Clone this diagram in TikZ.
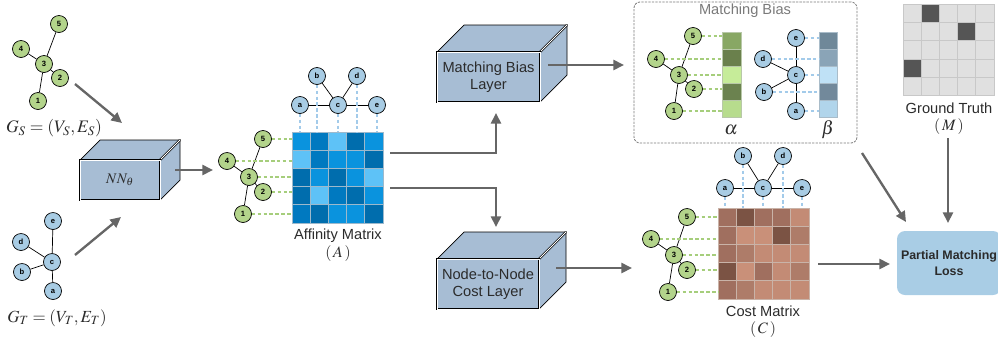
\documentclass[tikz,border=0pt]{standalone}
\usepackage{mathptmx}
\usepackage{fontspec}
\setmainfont{Liberation Sans}
\usetikzlibrary{arrows.meta,calc}

\def\px{0.03cm}
\definecolor{gnode}{HTML}{B3D48B}
\definecolor{bnode}{HTML}{A8CCE4}
\definecolor{gdash}{HTML}{A6CE7C}
\definecolor{bdash}{HTML}{A3CBEA}
\definecolor{layerblue}{HTML}{A7BDD4}
\definecolor{lossblue}{HTML}{A9CDE5}
\definecolor{arrowgray}{HTML}{666666}
\definecolor{txtgray}{HTML}{2B2B2B}
\definecolor{biasgray}{HTML}{7A7A7A}
\definecolor{am}{HTML}{0A93DE}
\definecolor{ad}{HTML}{0079C0}
\definecolor{al}{HTML}{5EC2F7}
\definecolor{ae}{HTML}{006DAD}
\definecolor{affgrid}{HTML}{9DB9CC}
\definecolor{c1}{HTML}{7B5344}
\definecolor{c2}{HTML}{A06F5F}
\definecolor{c3}{HTML}{AE7C69}
\definecolor{c4}{HTML}{C38B75}
\definecolor{c5}{HTML}{C99079}
\definecolor{costgrid}{HTML}{C9B3A8}
\definecolor{al1}{HTML}{88A764}
\definecolor{al2}{HTML}{6A804C}
\definecolor{al3}{HTML}{C6EC99}
\definecolor{al4}{HTML}{6B824F}
\definecolor{al5}{HTML}{B7DC8D}
\definecolor{algrid}{HTML}{B8C8A8}
\definecolor{be1}{HTML}{6F8899}
\definecolor{be2}{HTML}{8AA4B7}
\definecolor{be3}{HTML}{BFE1F6}
\definecolor{be4}{HTML}{72899B}
\definecolor{be5}{HTML}{B1D5EB}
\definecolor{begrid}{HTML}{A9BCC9}
\definecolor{gl}{HTML}{E0E0E0}
\definecolor{gd}{HTML}{555555}
\definecolor{gtgrid}{HTML}{C8C8C8}

\tikzset{
  gv/.style={circle, draw, fill=gnode, line width=0.6pt, minimum size=17*\px, inner sep=0pt,
    font=\fontsize{6.5}{6.5}\selectfont\bfseries},
  bv/.style={gv, fill=bnode},
  gedge/.style={line width=0.6pt},
  gdashed/.style={draw=gdash, line width=0.9pt, dash pattern=on 3pt off 2pt},
  bdashed/.style={draw=bdash, line width=0.9pt, dash pattern=on 3pt off 2pt},
  flow/.style={draw=arrowgray, line width=2pt, -{Triangle[length=9pt,width=8.5pt]}},
  layerface/.style={fill=layerblue, draw=black, line width=0.6pt},
  layer/.style={draw, fill=layerblue, line width=0.6pt, double=white, double distance=0.8pt,
    align=center, inner sep=0pt, text=txtgray, font=\fontsize{12.5}{15}\selectfont},
  lbl/.style={text=txtgray, inner sep=0pt, font=\fontsize{12.5}{15}\selectfont},
  mat/.style={inner sep=0pt, outer sep=0pt, minimum width=91*\px, minimum height=91*\px},
  biasbox/.style={draw=biasgray, line width=0.7pt, dash pattern=on 2pt off 1pt, rounded corners=6*\px},
  loss/.style={fill=lossblue, rounded corners=8*\px, align=center, inner sep=0pt,
    text=txtgray, font=\fontsize{10.6}{13.5}\selectfont\bfseries}
}

\newcommand{\layerbox}[7]{%
  \filldraw[layerface] (#2-#4/2,#3-#5/2) -- ++(#6,-#6) -- ++(#4,0) -- ++(-#6,#6) -- cycle;
  \filldraw[layerface] (#2+#4/2,#3-#5/2) -- ++(#6,-#6) -- ++(0,#5) -- ++(-#6,#6) -- cycle;
  \draw[line width=0.6pt, double=white, double distance=0.8pt] (#2+#4/2,#3-#5/2) -- ++(#6,-#6);
  \node[layer, minimum width=#4*\px, minimum height=#5*\px] (#1) at (#2,#3) {#7};
}
\newcommand{\heatmap}[5]{%
  \foreach \cl [count=\ri from 0] in {#4}
    \foreach \cc [count=\ci from 0] in \cl
      \filldraw[fill=\cc, draw=#5, line width=0.8pt]
        ($(#1.north west)+(\ci*#2,\ri*#3)$) rectangle ++(#2,#3);
}

\begin{document}
\begin{tikzpicture}[x=\px, y=-\px]
\useasboundingbox (0,0) rectangle (998,350);

\foreach \n/\x/\y in {5/59/24, 4/21/49, 3/44/64, 2/60/78, 1/38/101}
  \node[gv] (gs\n) at (\x,\y) {\n};
\foreach \n in {5,4,2,1} \draw[gedge] (gs3) -- (gs\n);
\node[lbl, font=\fontsize{15}{17}\selectfont] (gslbl) at (54,128) {$G_S=(V_S,E_S)$};

\foreach \n/\x/\y in {e/53/221, d/21/242, c/52/262, b/22/272, a/53/291}
  \node[bv] (gt\n) at (\x,\y) {\n};
\foreach \n in {e,d,b,a} \draw[gedge] (gtc) -- (gt\n);
\node[lbl, font=\fontsize{14.5}{17}\selectfont] (gtlbl) at (57,318) {$G_T=(V_T,E_T)$};

\layerbox{nn}{120}{180}{80}{40}{20}{$NN_\theta$}
\layerbox{mbl}{488.5}{77}{103}{50}{27}{Matching Bias\\Layer}
\layerbox{ncl}{488}{284}{102}{50}{27}{Node-to-Node\\Cost Layer}

\node[mat] (A) at (337.5,177.5) {};
\heatmap{A}{18.2}{18.2}{{am,ad,al,ae,am},{al,ad,am,am,ae},{ae,am,ae,am,al},{ae,al,ad,ae,am},{ad,ae,am,am,ae}}{affgrid}
\foreach \n/\x/\y in {5/263/139, 4/227/161, 3/249/177, 2/263/192, 1/243/214}
  \node[gv] (as\n) at (\x,\y) {\n};
\foreach \n in {5,4,2,1} \draw[gedge] (as3) -- (as\n);
\foreach \n/\x/\y in {a/300/105, b/317/76, c/338/105, d/357/76, e/377/105}
  \node[bv] (at\n) at (\x,\y) {\n};
\foreach \n in {a,b,d,e} \draw[gedge] (atc) -- (at\n);
\foreach \n in {1,...,5} \draw[gdashed] (as\n) -- (as\n -| A.west);
\foreach \n in {a,...,e} \draw[bdashed] (at\n) -- (at\n |- A.north);
\node[lbl] (albl) at (338,236) {Affinity Matrix};
\node[lbl, font=\fontsize{13.5}{15}\selectfont] (albl2) at (338,254) {$(\,A\,)$};

\node[biasbox, minimum width=223*\px, minimum height=141*\px] (mb) at (745.5,72.5) {};
\node[lbl, text=biasgray] (mbtitle) at (745,11) {Matching Bias};
\node[mat, minimum width=19*\px, minimum height=85*\px] (alpha) at (731.5,74.5) {};
\heatmap{alpha}{19}{17}{al1,al2,al3,al4,al5}{algrid}
\node[mat, minimum width=18*\px, minimum height=85*\px] (beta) at (828,74.5) {};
\heatmap{beta}{18}{17}{be1,be2,be3,be4,be5}{begrid}
\foreach \n/\x/\y in {5/693/36, 4/656/59, 3/679/75, 2/694/89, 1/674/111}
  \node[gv] (ms\n) at (\x,\y) {\n};
\foreach \n in {5,4,2,1} \draw[gedge] (ms3) -- (ms\n);
\foreach \n/\x/\y in {e/796/38, d/763/59, c/796/75, b/764/92, a/796/111}
  \node[bv] (mt\n) at (\x,\y) {\n};
\foreach \n in {e,d,b,a} \draw[gedge] (mtc) -- (mt\n);
\foreach \n in {1,...,5} \draw[gdashed] (ms\n) -- (ms\n -| alpha.west);
\foreach \n in {a,...,e} \draw[bdashed] (mt\n) -- (mt\n -| beta.west);
\node[lbl, font=\fontsize{16}{18}\selectfont] (alphalbl) at (731,130) {$\alpha$};
\node[lbl, font=\fontsize{16}{18}\selectfont] (betalbl) at (828,130) {$\beta$};

\node[mat] (M) at (948.5,50) {};
\heatmap{M}{18.2}{18.2}{{gl,gd,gl,gl,gl},{gl,gl,gl,gd,gl},{gl,gl,gl,gl,gl},{gd,gl,gl,gl,gl},{gl,gl,gl,gl,gl}}{gtgrid}
\node[lbl] (mlbl) at (949,108) {Ground Truth};
\node[lbl, font=\fontsize{13.5}{15}\selectfont] (mlbl2) at (949,127) {$(\,M\,)$};

\node[mat] (C) at (763.5,253.5) {};
\heatmap{C}{18.2}{18.2}{{c2,c1,c2,c2,c4},{c2,c5,c5,c1,c3},{c2,c3,c4,c4,c4},{c1,c5,c2,c4,c3},{c2,c3,c4,c4,c4}}{costgrid}
\foreach \n/\x/\y in {5/687/217, 4/651/239, 3/674/255, 2/687/270, 1/668/292}
  \node[gv] (cs\n) at (\x,\y) {\n};
\foreach \n in {5,4,2,1} \draw[gedge] (cs3) -- (cs\n);
\foreach \n/\x/\y in {a/725/188, b/743/156, c/763/188, d/783/156, e/802/188}
  \node[bv] (ct\n) at (\x,\y) {\n};
\foreach \n in {a,b,d,e} \draw[gedge] (ctc) -- (ct\n);
\foreach \n in {1,...,5} \draw[gdashed] (cs\n) -- (cs\n -| C.west);
\foreach \n in {a,...,e} \draw[bdashed] (ct\n) -- (ct\n |- C.north);
\node[lbl] (clbl) at (763,311) {Cost Matrix};
\node[lbl, font=\fontsize{13.5}{15}\selectfont] (clbl2) at (763,330) {$(\,C\,)$};

\node[loss, minimum width=104*\px, minimum height=64*\px] (loss) at (949,263) {Partial Matching\\Loss};

\coordinate (gsout) at (75,84);
\coordinate (nnin) at (122,123);
\coordinate (gtout) at (75,255);
\coordinate (nnin2) at (121,217);
\coordinate (nnout) at ($(nn.east)+(15,-10)$);
\coordinate (affin) at (213,170);
\coordinate (aup) at (390,153);
\coordinate (mblin) at (496,113);
\coordinate (adown) at (390,188);
\coordinate (nclin) at (496,227);
\coordinate (mblout) at ($(mbl.east)+(8,-12)$);
\coordinate (mbin) at (624,65);
\coordinate (nclout) at ($(ncl.east)+(17,-16)$);
\coordinate (costin) at (632,268);
\coordinate (costout) at (818,264);
\coordinate (lossin) at (890,264);
\coordinate (mbdown) at (862,153);
\coordinate (lossin2) at (906,222);
\coordinate (gtdown) at (948,138);
\coordinate (lossin3) at (948,223);

\draw[flow] (gsout) -- (nnin);
\draw[flow] (gtout) -- (nnin2);
\draw[flow] (nnout) -- (affin);
\draw[flow] (aup) -| (mblin);
\draw[flow] (adown) -| (nclin);
\draw[flow] (mblout) -- (mbin);
\draw[flow] (nclout) -- (costin);
\draw[flow] (costout) -- (lossin);
\draw[flow] (mbdown) -- (lossin2);
\draw[flow] (gtdown) -- (lossin3);

\end{tikzpicture}
\end{document}
